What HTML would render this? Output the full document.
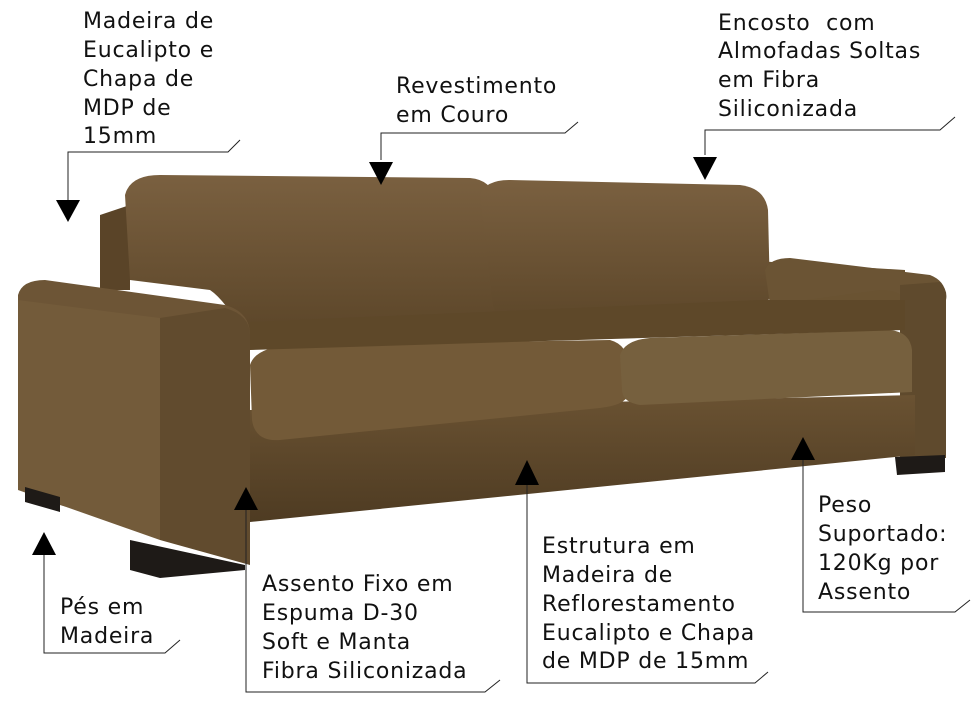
<!DOCTYPE html>
<html><head><meta charset="utf-8"><style>
html,body{margin:0;padding:0;background:#fff;}
svg{display:block}
text{font-family:"DejaVu Sans","Liberation Sans",sans-serif;font-size:22px;letter-spacing:0.8px;fill:#111}
</style></head><body>
<svg width="980" height="710" viewBox="0 0 980 710" xmlns="http://www.w3.org/2000/svg">
<defs>
<linearGradient id="g1" x1="0" y1="0" x2="0" y2="1"><stop offset="0" stop-color="#7a6040"/><stop offset="1" stop-color="#5c4629"/></linearGradient>
<linearGradient id="g2" x1="0" y1="0" x2="0" y2="1"><stop offset="0" stop-color="#6a5232"/><stop offset="1" stop-color="#4e3b22"/></linearGradient>
</defs>
<path d="M100,215 L130,205 L130,290 L100,290Z" fill="#5a4428"/>
<path d="M740,260 L905,270 L905,300 L770,300Z" fill="#6a5332"/>
<path d="M125,195 Q130,175 160,175 L470,178 Q492,180 495,200 L498,300 Q495,330 470,332 L245,335 Q225,300 210,290 L130,280Z" fill="url(#g1)"/>
<path d="M480,195 Q485,180 510,180 L740,185 Q765,188 768,210 L770,295 Q765,318 740,320 L520,328 Q495,325 492,300Z" fill="url(#g1)"/>
<path d="M765,270 Q770,258 790,258 L930,275 Q948,282 945,300 L945,455 L905,460 L905,300 Q900,290 880,290 L770,305Z" fill="#6b5434"/>
<path d="M900,285 L940,282 Q948,290 946,300 L946,458 L900,460Z" fill="#5f4a2d"/>
<path d="M250,410 L915,395 L915,455 L250,522Z" fill="url(#g2)"/>
<path d="M250,365 Q255,348 290,345 L610,340 Q628,345 628,365 L628,395 Q625,405 600,408 L280,440 Q255,442 252,420Z" fill="#735a38"/>
<path d="M620,355 Q625,340 650,338 L890,330 Q910,332 912,350 L912,392 L640,405 Q622,402 622,390Z" fill="#76603e"/>
<path d="M250,322 L760,300 L905,300 L905,330 L250,350Z" fill="#5e4829"/>
<path d="M18,295 Q22,280 45,280 L225,305 Q250,312 250,335 L250,560 L60,505 L18,480Z" fill="#6d5536"/>
<path d="M160,318 L225,308 Q250,315 250,335 L250,565 L160,540Z" fill="#614b2e"/>
<path d="M18,300 L160,318 L160,540 L18,490Z" fill="#735b3a"/>
<path d="M25,487 L60,497 L60,512 L25,502Z" fill="#1e1a17"/>
<path d="M130,540 L245,565 L245,570 L160,578 L130,570Z" fill="#1e1a17"/>
<path d="M895,457 L945,455 L945,472 L897,475Z" fill="#1e1a17"/>
<g stroke="#222" stroke-width="1" fill="none">
<path d="M68,200 L68,152 L228,152 L240,140"/>
<path d="M381,160 L381,133 L565,133 L578,122"/>
<path d="M705,155 L705,130 L940,130 L955,117"/>
<path d="M44,555 L44,653 L165,653 L180,640"/>
<path d="M246,510 L246,692 L485,692 L500,680"/>
<path d="M527,485 L527,683 L755,683 L768,672"/>
<path d="M803,460 L803,612 L955,612 L970,600"/>
</g>
<g fill="#000">
<path d="M56,200 L80,200 L68,222Z"/>
<path d="M369,162 L393,162 L381,185Z"/>
<path d="M693,157 L717,157 L705,180Z"/>
<path d="M32,555 L56,555 L44,532Z"/>
<path d="M234,510 L258,510 L246,487Z"/>
<path d="M515,485 L539,485 L527,460Z"/>
<path d="M791,460 L815,460 L803,437Z"/>
</g>
<text x="83" y="28">Madeira de</text>
<text x="83" y="57">Eucalipto e</text>
<text x="83" y="86">Chapa de</text>
<text x="83" y="115">MDP de</text>
<text x="83" y="143">15mm</text>
<text x="396" y="93">Revestimento</text>
<text x="396" y="122">em Couro</text>
<text x="718" y="30" xml:space="preserve">Encosto  com</text>
<text x="718" y="58">Almofadas Soltas</text>
<text x="718" y="87">em Fibra</text>
<text x="718" y="116">Siliconizada</text>
<text x="60" y="614">Pés em</text>
<text x="60" y="643">Madeira</text>
<text x="262" y="591">Assento Fixo em</text>
<text x="262" y="620">Espuma D-30</text>
<text x="262" y="649">Soft e Manta</text>
<text x="262" y="678">Fibra Siliconizada</text>
<text x="542" y="553">Estrutura em</text>
<text x="542" y="582">Madeira de</text>
<text x="542" y="611">Reflorestamento</text>
<text x="542" y="640">Eucalipto e Chapa</text>
<text x="542" y="668">de MDP de 15mm</text>
<text x="818" y="512">Peso</text>
<text x="818" y="541">Suportado:</text>
<text x="818" y="570">120Kg por</text>
<text x="818" y="599">Assento</text>
</svg>
</body></html>
